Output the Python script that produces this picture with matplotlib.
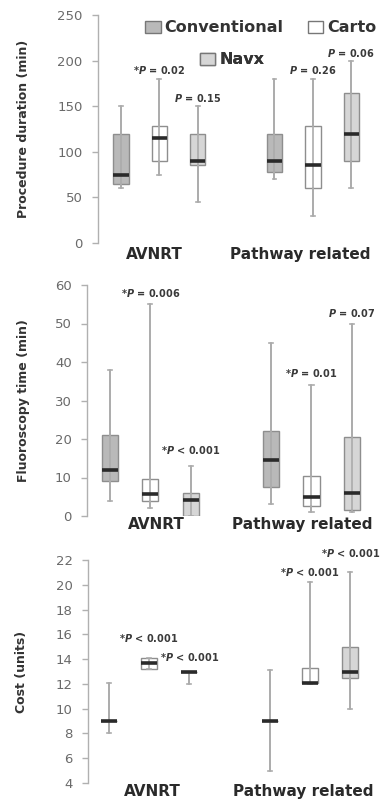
import numpy as np
import matplotlib
matplotlib.use("Agg")
import matplotlib.pyplot as plt
from matplotlib.patches import Patch

plt.rcParams['font.family'] = ['DejaVu Sans']
plt.rcParams['mathtext.fontset'] = 'custom'
plt.rcParams['mathtext.it'] = 'DejaVu Sans:italic:bold'
plt.rcParams['mathtext.rm'] = 'DejaVu Sans:bold'

# groups / systems
groups = ["AVNRT", "Pathway related"]
systems = ["Conventional", "Carto", "Navx"]

# box stats, order: conv, carto, navx for AVNRT then Pathway related
# (whislo, q1, med, q3, whishi)
proc_stats = [
    (60, 65, 75, 120, 150),
    (75, 90, 115, 128, 180),
    (45, 85, 90, 120, 150),
    (70, 78, 90, 120, 180),
    (30, 60, 85, 128, 180),
    (60, 90, 120, 165, 200),
]
fluoro_stats = [
    (4, 9, 12, 21, 38),
    (2, 4, 5.7, 9.5, 55),
    (0, 0, 4.2, 6, 13),
    (3, 7.5, 14.5, 22, 45),
    (1, 2.5, 5, 10.5, 34),
    (1, 1.5, 6, 20.5, 50),
]
cost_stats = [
    (8, 9, 9, 9, 12.1),
    (13.2, 13.2, 13.65, 14.1, 14.1),
    (12, 13, 13, 13, 13),
    (5, 9, 9, 9, 13.1),
    (12, 12.05, 12.1, 13.3, 20.2),
    (10, 12.5, 13, 15, 21),
]

# p-value labels: (box index, text)
proc_p = [(1, "*$P$ = 0.02"), (2, "$P$ = 0.15"), (4, "$P$ = 0.26"), (5, "$P$ = 0.06")]
fluoro_p = [(1, "*$P$ = 0.006"), (2, "*$P$ < 0.001"), (4, "*$P$ = 0.01"), (5, "$P$ = 0.07")]
cost_p = [(1, "*$P$ < 0.001"), (2, "*$P$ < 0.001"), (4, "*$P$ < 0.001"), (5, "*$P$ < 0.001")]

fills = {"Conventional": "#b9b9b9", "Carto": "#ffffff", "Navx": "#d6d6d6"}
edge = "#8e8e8e"
wcol = "#ababab"

W, H = 380, 799
fig = plt.figure(figsize=(W / 100, H / 100), dpi=100)


def px_axes(left, top, bottom):
    return fig.add_axes([left / W, 1 - bottom / H, (W - left) / W, (bottom - top) / H])


def draw_panel(ax, stats, ylim, yticks, ylabel, xlim, plabels, plabel_y, lab_dx, lab_dy, ylab_x):
    pos = [k + 4 * g for g in range(2) for k in range(3)]
    bxp_stats = []
    for s in stats:
        bxp_stats.append(dict(whislo=s[0], q1=s[1], med=s[2], q3=s[3], whishi=s[4], fliers=[]))
    # whisker line running through the box
    ax.vlines(pos, [s[0] for s in stats], [s[4] for s in stats], color=wcol, lw=1.2, zorder=3)
    b = ax.bxp(bxp_stats, positions=pos, widths=0.4, patch_artist=True, showfliers=False,
               capwidths=0.1,
               boxprops=dict(edgecolor=edge, lw=1.0),
               whiskerprops=dict(color=wcol, lw=1.2),
               capprops=dict(color=wcol, lw=1.2),
               medianprops=dict(color="#2a2a2a", lw=2.6, solid_capstyle="butt"))
    for i, patch in enumerate(b["boxes"]):
        patch.set_facecolor(fills[systems[i % 3]])
        patch.set_zorder(2)
    for m in b["medians"]:
        m.set_zorder(4)
    ax.set_xlim(*xlim)
    ax.set_ylim(*ylim)
    ax.set_yticks(yticks)
    ax.set_xticks([])
    for sp in ["top", "right", "bottom"]:
        ax.spines[sp].set_visible(False)
    ax.spines["left"].set_color("#b0b0b0")
    ax.spines["left"].set_linewidth(1.0)
    ax.tick_params(axis="y", length=4, width=1, color="#b0b0b0", labelcolor="#6a6a6a",
                   labelsize=9.5, pad=7)
    ax.set_ylabel(ylabel, fontsize=9, fontweight="bold", color="#333333")
    ax.yaxis.set_label_coords(ylab_x, 0.5)
    for (i, txt), yv in zip(plabels, plabel_y):
        ax.text(pos[i], yv, txt, ha="center", va="center", fontsize=7, fontweight="bold",
                color="#3a3a3a", clip_on=False)
    for g, name in enumerate(groups):
        ax.annotate(name, xy=(1 + 4 * g, 0), xycoords=("data", "axes fraction"),
                    xytext=(lab_dx[g], -lab_dy), textcoords="offset pixels",
                    ha="center", va="top", fontsize=11, fontweight="bold", color="#2a2a2a",
                    annotation_clip=False)


ax1 = px_axes(98, 15, 243)
draw_panel(ax1, proc_stats, (0, 250), np.arange(0, 251, 50), "Procedure duration (min)",
           (-0.6, 6.75), proc_p, [190, 159, 190, 208], [-5, -13], 4, -0.24)

ax2 = px_axes(87, 285, 516)
draw_panel(ax2, fluoro_stats, (0, 60), np.arange(0, 61, 10), "Fluoroscopy time (min)",
           (-0.57, 6.7), fluoro_p, [58, 17.1, 37.1, 52.7], [6, -9], 1, -0.195)

ax3 = px_axes(88, 560, 783)
draw_panel(ax3, cost_stats, (4, 22), np.arange(4, 23, 2), "Cost (units)",
           (-0.52, 6.74), cost_p, [15.7, 14.2, 21.0, 22.6], [3, -7], 1, -0.205)

# legend, placed as three single entries
leg_pos = {"Conventional": (0.168, 0.943), "Carto": (0.744, 0.943), "Navx": (0.362, 0.803)}
for name in systems:
    h = Patch(facecolor=fills[name], edgecolor="#777777", lw=1.0)
    leg = ax1.legend([h], [name], loc="center left", bbox_to_anchor=leg_pos[name],
                     frameon=False, borderpad=0, borderaxespad=0, handlelength=0.95,
                     handleheight=0.8, handletextpad=0.25,
                     prop=dict(size=11.5, weight="bold"))
    for t in leg.get_texts():
        t.set_color("#333333")
    ax1.add_artist(leg)

fig.savefig("out.png", dpi=100)
